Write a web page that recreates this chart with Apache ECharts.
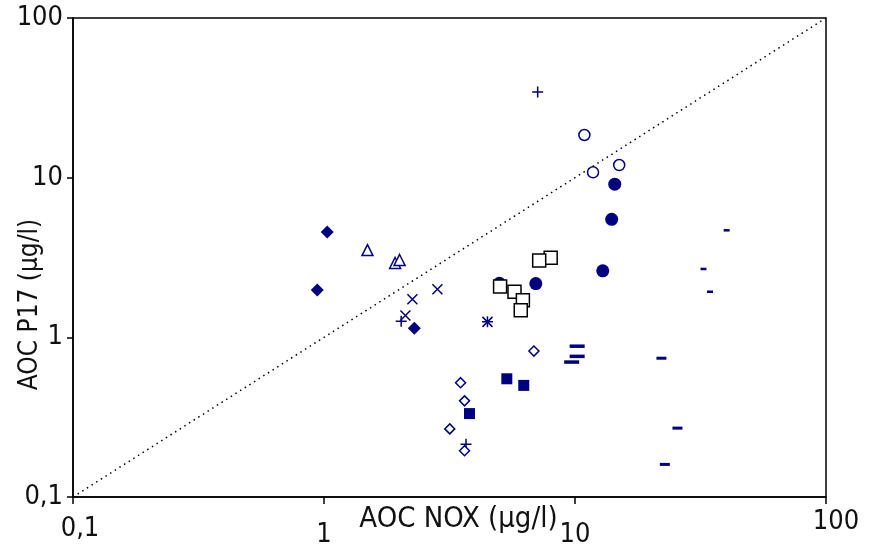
<!DOCTYPE html>
<html>
<head>
<meta charset="utf-8">
<script src="https://cdn.jsdelivr.net/npm/echarts@6/dist/echarts.min.js"></script>
<style>
  html, body { margin: 0; padding: 0; background: #fff; }
  #chart { width: 871px; height: 544px; }
</style>
</head>
<body>
<div id="chart"></div>
<script>
// AOC measured by the NOX strain vs. the P17 strain, µg/l, both on log scales.
// Each group is a list of [NOX, P17] pairs.
const filledDiamonds = [[1.03, 4.56], [0.94, 1.98], [2.29, 1.14]];
const openTriangles = [[1.49, 3.52], [1.92, 2.92], [2.0, 3.05]];
const crosses = [[2.83, 2.0], [2.25, 1.73], [2.11, 1.37], [4.48, 1.25]];
const plusses = [[2.03, 1.26], [7.1, 34.4], [3.68, 0.214], [4.48, 1.25]];
const openCircles = [[10.9, 18.5], [11.8, 10.8], [15.0, 12.0]];
const filledCircles = [[14.4, 9.1], [14.0, 5.48], [12.9, 2.61], [6.98, 2.17], [5.0, 2.18]];
const openSquares = [[8.0, 3.15], [7.2, 3.03], [5.03, 2.08], [5.74, 1.93], [6.2, 1.71], [6.08, 1.48]];
const openDiamonds = [[6.86, 0.82], [3.5, 0.52], [3.63, 0.40], [3.17, 0.267], [3.63, 0.195]];
const filledSquares = [[5.35, 0.55], [6.25, 0.50], [3.8, 0.333]];
const longDashes = [[10.2, 0.88], [10.2, 0.76], [9.7, 0.70]];
const midDashes = [[22.1, 0.74], [25.6, 0.27], [22.8, 0.160]];
const shortDashes = [[40.2, 4.68], [32.5, 2.68], [34.5, 1.93]];
// 1:1 reference line
const identityLine = [[0.1, 0.1], [100, 100]];
const axisTicks = [0.1, 1, 10, 100];

const navy = '#000080';
const font = "'DejaVu Sans Condensed', 'Liberation Sans Narrow', sans-serif";

function fmt(v) {
  return String(v).replace('.', ',');
}

// The x tick labels sit slightly staggered under the axis.
const xLabelRich = {
  t0: { padding: [7, 0, 0, 14] },
  t1: { padding: [13, 0, 0, 0] },
  t2: { padding: [13, 0, 0, 0] },
  t3: { padding: [0, 0, 0, 20] }
};
function xLabel(v) {
  const i = axisTicks.indexOf(v);
  return i < 0 ? '' : '{t' + i + '|' + fmt(v) + '}';
}

function scatter(name, data, symbol, size, style, z) {
  return {
    name, type: 'scatter', data, symbol, symbolSize: size,
    itemStyle: Object.assign({ opacity: 1 }, style), z: z || 3, silent: true
  };
}

const openNavy = { color: '#fff', borderColor: navy, borderWidth: 1.5 };
const strokeNavy = { color: 'rgba(0,0,0,0)', borderColor: navy, borderWidth: 1.5 };
const solidNavy = { color: navy };
const labelText = { fontFamily: font, fontSize: 27, color: '#111' };

const chart = echarts.init(document.getElementById('chart'), null, { renderer: 'canvas' });
chart.setOption({
  animation: false,
  backgroundColor: '#fff',
  grid: {
    left: 73, right: 45, top: 18, bottom: 47,
    containLabel: false, outerBoundsMode: 'none',
    show: true, borderColor: '#000', borderWidth: 1.5, backgroundColor: 'transparent'
  },
  xAxis: {
    type: 'log', logBase: 10, min: 0.1, max: 100,
    name: 'AOC NOX (µg/l)', nameLocation: 'middle', nameGap: 8, nameMoveOverlap: false,
    nameTextStyle: { fontFamily: font, fontSize: 29, color: '#111', padding: [0, 0, 0, 18] },
    axisLine: { show: true, onZero: false, lineStyle: { color: '#000', width: 1.5 } },
    axisTick: { show: true, inside: false, length: 7, lineStyle: { color: '#000', width: 1.5 } },
    minorTick: { show: false },
    splitLine: { show: false },
    axisLabel: Object.assign({ margin: 11, formatter: xLabel, rich: xLabelRich }, labelText)
  },
  yAxis: {
    type: 'log', logBase: 10, min: 0.1, max: 100,
    name: 'AOC P17 (µg/l)', nameLocation: 'middle', nameGap: 30, nameRotate: 90, nameMoveOverlap: false,
    nameTextStyle: { fontFamily: font, fontSize: 26, color: '#111', padding: [0, 94, 0, 0] },
    axisLine: { show: true, onZero: false, lineStyle: { color: '#000', width: 1.5 } },
    axisTick: { show: true, inside: false, length: 6, lineStyle: { color: '#000', width: 1.5 } },
    minorTick: { show: false },
    splitLine: { show: false },
    axisLabel: Object.assign({
      margin: 10,
      formatter: v => axisTicks.includes(v) ? fmt(v) : ''
    }, labelText)
  },
  series: [
    {
      name: '1:1', type: 'line', data: identityLine, symbol: 'none', silent: true, z: 2,
      lineStyle: { color: '#000', width: 1.5, type: [1.5, 4] }
    },
    scatter('filled circles', filledCircles, 'circle', 13, solidNavy, 3),
    scatter('filled diamonds', filledDiamonds, 'diamond', 13, solidNavy, 4),
    scatter('open triangles', openTriangles, 'triangle', 11, openNavy, 4),
    scatter('crosses', crosses, 'path://M0,0L10,10M10,0L0,10', 10, strokeNavy, 4),
    scatter('plusses', plusses, 'path://M5,0L5,10M0,5L10,5', 11, strokeNavy, 4),
    scatter('open circles', openCircles, 'circle', 11, openNavy, 4),
    scatter('open squares', openSquares, 'rect', 13, { color: '#fff', borderColor: '#000', borderWidth: 1.5 }, 5),
    scatter('open diamonds', openDiamonds, 'diamond', 10, openNavy, 4),
    scatter('filled squares', filledSquares, 'rect', 11, solidNavy, 4),
    scatter('long dashes', longDashes, 'rect', [15, 3.5], solidNavy, 4),
    scatter('mid dashes', midDashes, 'rect', [10, 3], solidNavy, 4),
    scatter('short dashes', shortDashes, 'rect', [6, 2.5], solidNavy, 4)
  ]
});
</script>
</body>
</html>
